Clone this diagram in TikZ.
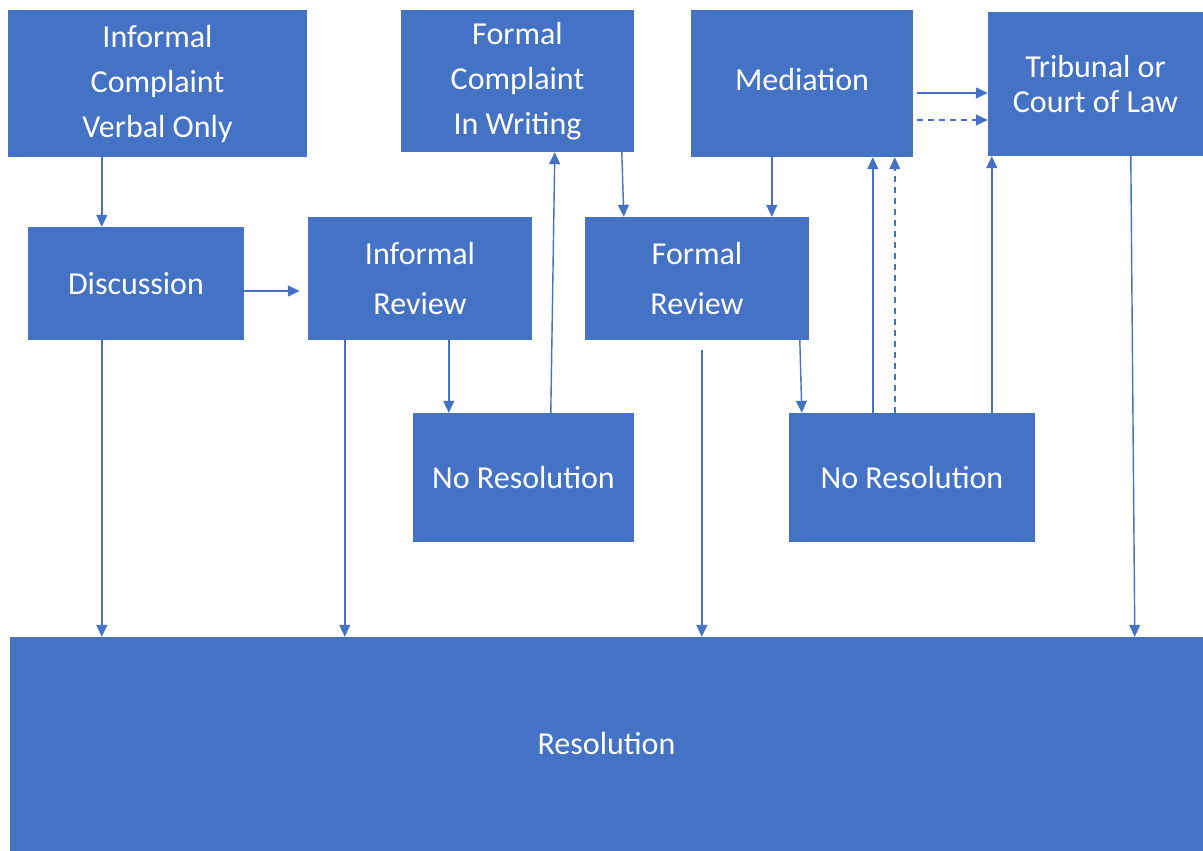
\documentclass[tikz,border=0pt]{standalone}
\usepackage{fontspec}
\setmainfont{Carlito}
\usetikzlibrary{arrows.meta}
\definecolor{boxblue}{HTML}{4472C4}
\tikzset{
  box/.style={fill=boxblue, draw=none, text=white, align=center, inner sep=0pt,
    font=\fontsize{32}{45}\selectfont},
  arr/.style={draw=boxblue, line width=1.4pt, -{Triangle[length=12pt,width=11pt]}},
  darr/.style={arr, dash pattern=on 6pt off 5pt},
}
\begin{document}
\begin{tikzpicture}[x=1pt,y=-1pt]
\useasboundingbox (0,0) rectangle (1203,851);
% boxes: center, size
\node[box, minimum width=299pt, minimum height=147pt] (ic) at (157.5,83.5) {Informal\\Complaint\\Verbal Only};
\node[box, minimum width=233pt, minimum height=142pt] (fc) at (517.5,81) {Formal\\Complaint\\In Writing};
\node[box, minimum width=222pt, minimum height=147pt] (med) at (802,83.5) {};
\node[text=white, font=\fontsize{32}{45}\selectfont, inner sep=0pt] (medt) at (802,80) {Mediation};
\node[box, minimum width=215pt, minimum height=144pt, font=\fontsize{32}{35}\selectfont] (tc) at (1095.5,84) {Tribunal or\\Court of Law};
\node[box, minimum width=216pt, minimum height=113pt] (disc) at (136,283.5) {Discussion};
\node[box, minimum width=224pt, minimum height=123pt, font=\fontsize{32}{50}\selectfont] (ir) at (420,278.5) {Informal\\Review};
\node[box, minimum width=224pt, minimum height=123pt, font=\fontsize{32}{50}\selectfont] (fr) at (697,278.5) {Formal\\Review};
\node[box, minimum width=221pt, minimum height=129pt] (nr1) at (523.5,477.5) {No Resolution};
\node[box, minimum width=246pt, minimum height=129pt] (nr2) at (912,477.5) {No Resolution};
\node[box, minimum width=1193pt, minimum height=214pt] (res) at (606.5,744) {Resolution};
% connectors
\draw[arr] ([xshift=94pt]ic.south west) -- ([xshift=74pt]disc.north west);
\draw[arr] ([yshift=-7.5pt]disc.east) -- ([xshift=-8pt,yshift=-12.5pt]ir.west);
\draw[arr] ([xshift=74pt]disc.south west) -- ([xshift=92pt]res.north west);
\draw[arr] ([xshift=37pt]ir.south west) -- ([xshift=335pt]res.north west);
\draw[arr] ([xshift=141pt]ir.south west) -- ([xshift=36pt]nr1.north west);
\draw[arr] ([xshift=138pt]nr1.north west) -- ([xshift=154pt]fc.south west);
\draw[arr] ([xshift=221pt]fc.south west) -- ([xshift=39pt]fr.north west);
\draw[arr] ([xshift=81pt]med.south west) -- ([xshift=187pt]fr.north west);
\draw[arr] ([xshift=117pt,yshift=-10pt]fr.south west) -- ([xshift=692pt]res.north west);
\draw[arr] ([xshift=215pt]fr.south west) -- ([xshift=13pt]nr2.north west);
\draw[arr] ([xshift=84pt]nr2.north west) -- ([xshift=182pt]med.south west);
\draw[darr] ([xshift=106pt]nr2.north west) -- ([xshift=204pt]med.south west);
\draw[arr] ([xshift=203pt]nr2.north west) -- ([xshift=4pt]tc.south west);
\draw[arr] ([xshift=4pt,yshift=-9.5pt]med.east) -- ([yshift=-9pt]tc.west);
\draw[darr] ([xshift=4pt,yshift=-36.5pt]med.east) -- ([yshift=-36pt]tc.west);
\draw[arr] ([xshift=143pt]tc.south west) -- ([xshift=1125pt]res.north west);
\end{tikzpicture}
\end{document}
